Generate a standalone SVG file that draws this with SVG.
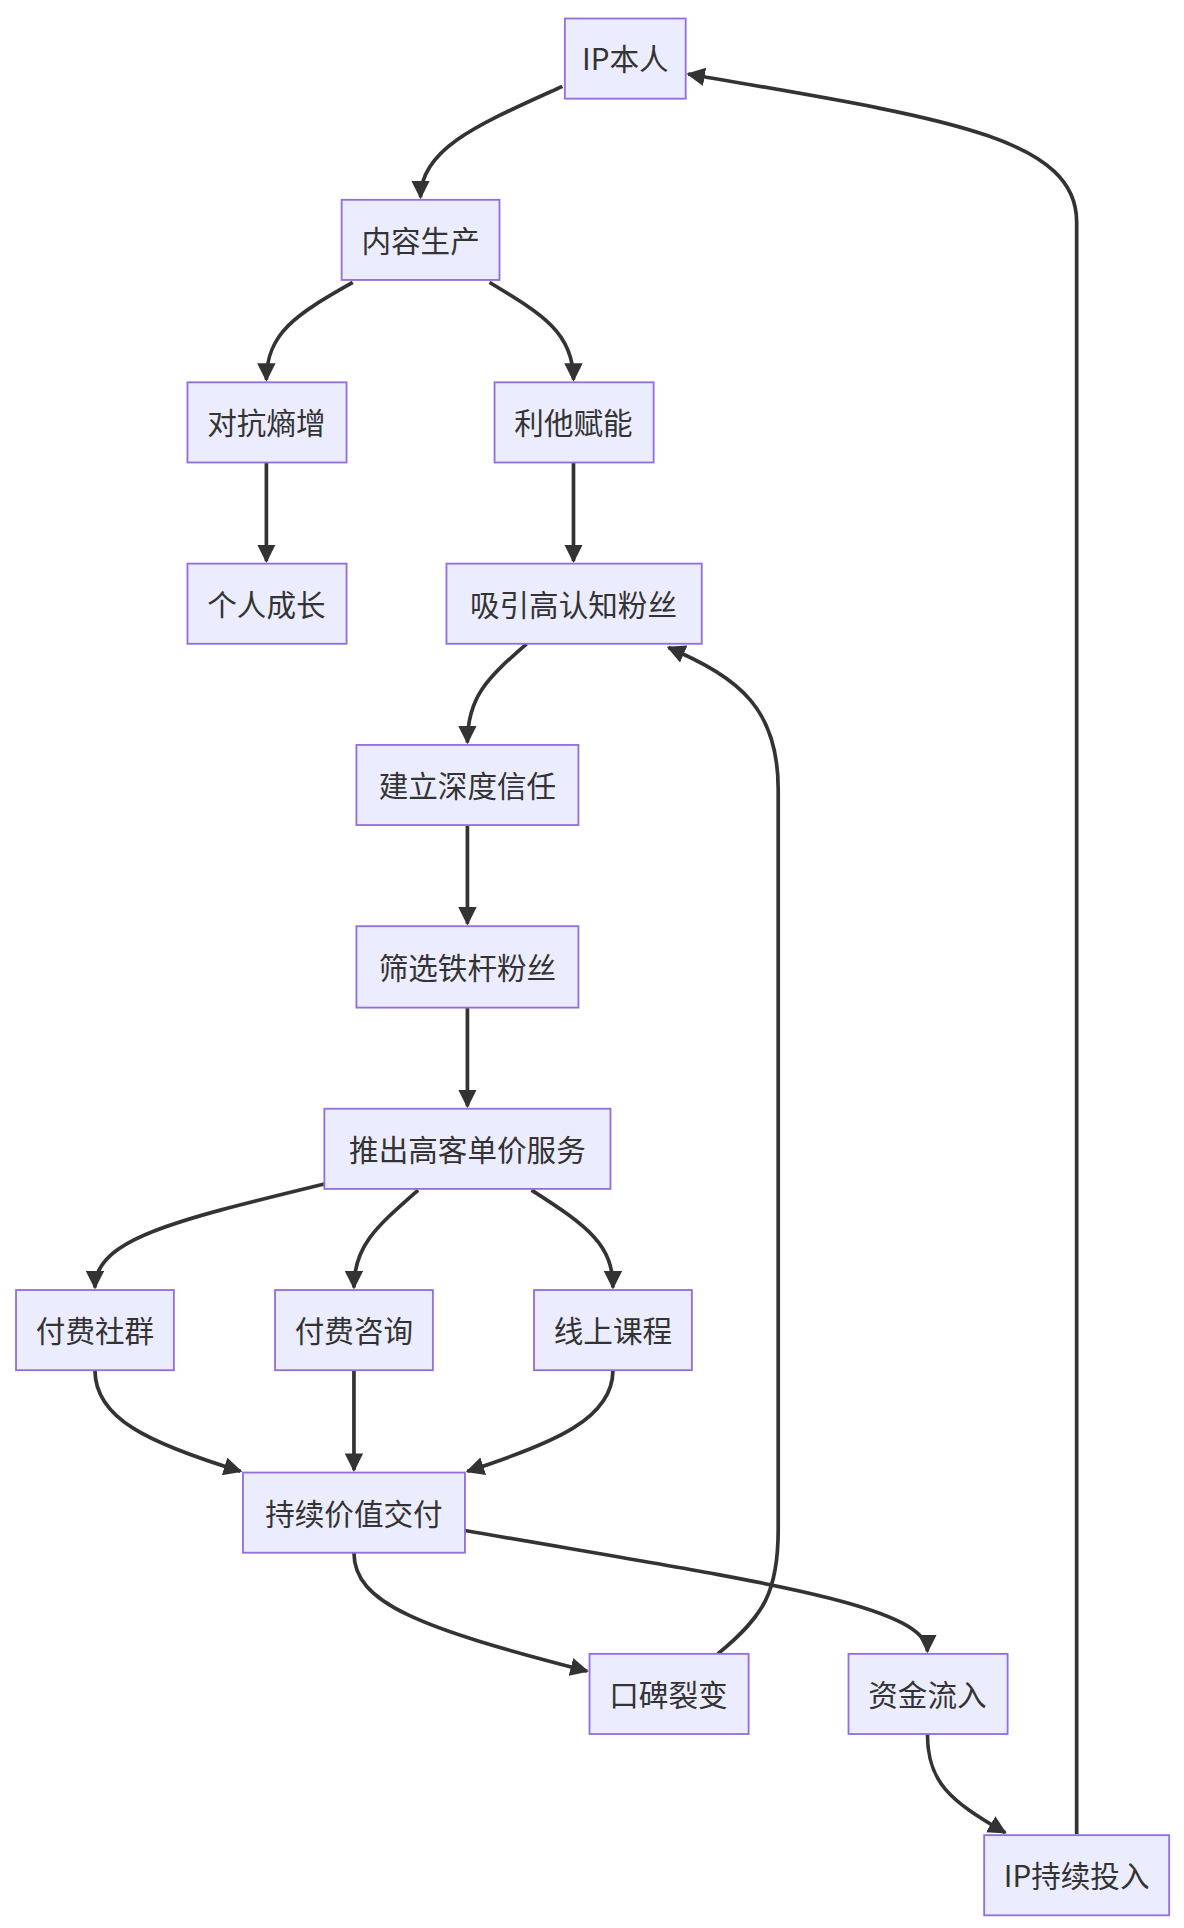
<svg xmlns="http://www.w3.org/2000/svg" width="1184" height="1928" viewBox="0 0 1184 1928">
<style>
.n rect{fill:#ECECFF;stroke:#9370DB;stroke-width:1.5}
.n text{font-family:"Noto Sans CJK SC","Liberation Sans",sans-serif;font-size:24px;fill:#333;text-anchor:middle;dominant-baseline:central}
#edges path{fill:none;stroke:#333;stroke-width:3;marker-end:url(#a)}
</style>
<defs><marker id="a" viewBox="0 0 10 10" refX="9" refY="5" markerWidth="5" markerHeight="5" orient="auto"><path d="M0,0L10,5L0,10z" fill="#333"/></marker></defs>
<rect width="1184" height="1928" fill="#fff"/>
<g transform="scale(1.2333)">
<g id="edges">
<path d="M456,70 C390,100 341,120 341,160"/>
<path d="M286,229 C240,255 216,270 216,308"/>
<path d="M397,229 C440,255 465,270 465,308"/>
<path d="M216,375 L216,455"/>
<path d="M465,375 L465,455"/>
<path d="M427,522 C395,550 379,565 379,602"/>
<path d="M379,669 L379,749"/>
<path d="M379,817 L379,897"/>
<path d="M263,960 C140,990 77,1005 77,1044"/>
<path d="M339,965 C305,995 287,1010 287,1044"/>
<path d="M431,965 C478,995 497,1010 497,1044"/>
<path d="M77,1111 C77,1150 120,1170 195,1193"/>
<path d="M287,1111 L287,1192"/>
<path d="M497,1111 C497,1150 450,1170 379,1193"/>
<path d="M287,1259 C287,1300 340,1320 476,1355"/>
<path d="M377,1241 C600,1280 752,1300 752,1339"/>
<path d="M752,1406 C752,1445 770,1460 815,1486"/>
<path d="M873,1487 L873,180 C873,110 760,95 558,60"/>
<path d="M582,1341 C620,1310 631,1290 631,1240 L631,640 C631,575 600,550 542,525"/>
</g>
<g id="n1" class="n"><rect x="458" y="15" width="98" height="65"/><text x="507" y="47">IP本人</text></g>
<g id="n2" class="n"><rect x="277" y="162" width="128" height="65"/><text x="341" y="194">内容生产</text></g>
<g id="n3" class="n"><rect x="152" y="310" width="129" height="65"/><text x="216" y="342">对抗熵增</text></g>
<g id="n4" class="n"><rect x="401" y="310" width="129" height="65"/><text x="465" y="342">利他赋能</text></g>
<g id="n5" class="n"><rect x="152" y="457" width="129" height="65"/><text x="216" y="489">个人成长</text></g>
<g id="n6" class="n"><rect x="362" y="457" width="207" height="65"/><text x="465" y="489">吸引高认知粉丝</text></g>
<g id="n7" class="n"><rect x="289" y="604" width="180" height="65"/><text x="379" y="636">建立深度信任</text></g>
<g id="n8" class="n"><rect x="289" y="751" width="180" height="66"/><text x="379" y="784">筛选铁杆粉丝</text></g>
<g id="n9" class="n"><rect x="263" y="899" width="232" height="65"/><text x="379" y="931">推出高客单价服务</text></g>
<g id="n10" class="n"><rect x="13" y="1046" width="128" height="65"/><text x="77" y="1078">付费社群</text></g>
<g id="n11" class="n"><rect x="223" y="1046" width="128" height="65"/><text x="287" y="1078">付费咨询</text></g>
<g id="n12" class="n"><rect x="433" y="1046" width="128" height="65"/><text x="497" y="1078">线上课程</text></g>
<g id="n13" class="n"><rect x="197" y="1194" width="180" height="65"/><text x="287" y="1226">持续价值交付</text></g>
<g id="n14" class="n"><rect x="478" y="1341" width="129" height="65"/><text x="542" y="1373">口碑裂变</text></g>
<g id="n15" class="n"><rect x="688" y="1341" width="129" height="65"/><text x="752" y="1373">资金流入</text></g>
<g id="n16" class="n"><rect x="798" y="1488" width="150" height="65"/><text x="873" y="1520">IP持续投入</text></g>
</g>
</svg>
